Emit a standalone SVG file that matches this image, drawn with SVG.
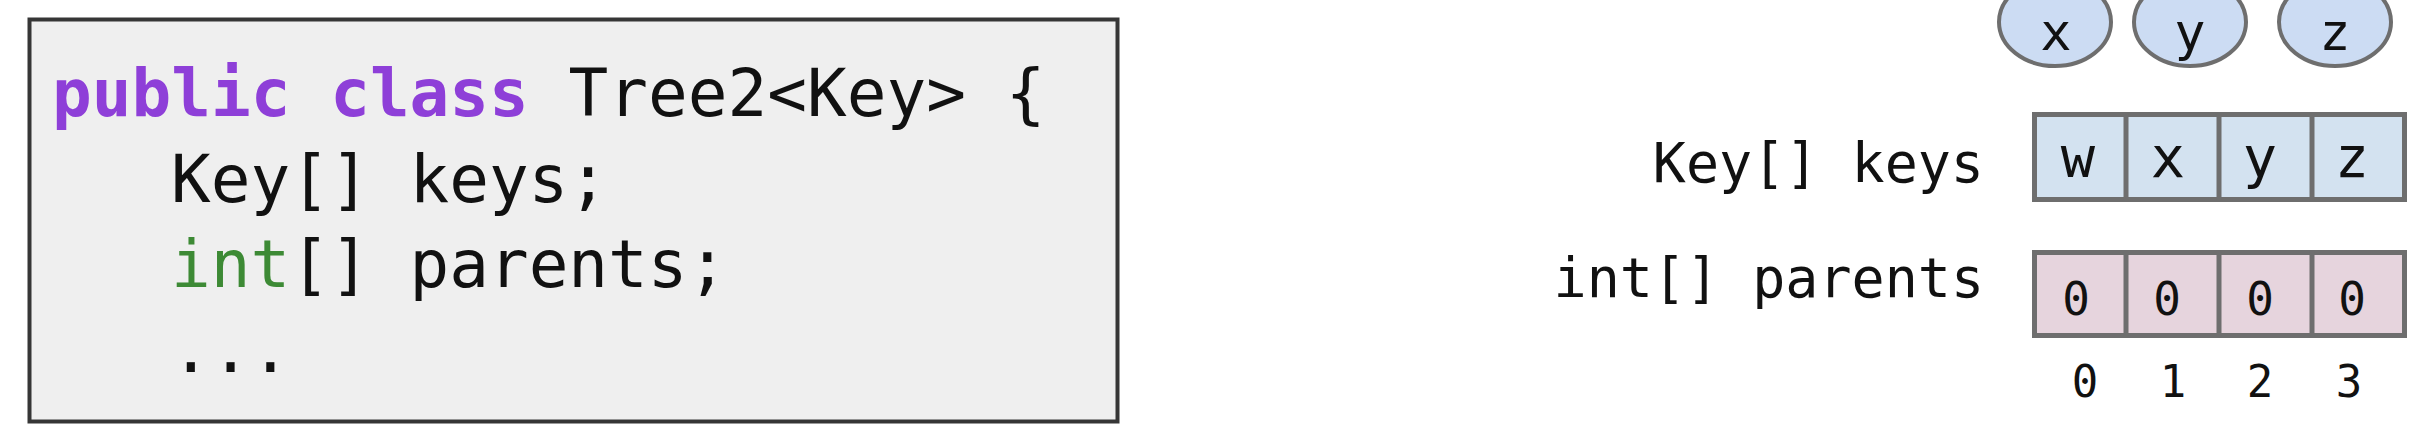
<svg xmlns="http://www.w3.org/2000/svg" width="2410" height="448" viewBox="0 0 2410 448">
<style>
.mono{font-family:"DejaVu Sans Mono","Liberation Mono",monospace;fill:#111}
.code{font-size:66px}
.kw{fill:#8e3fd8;font-weight:bold}
.ty{fill:#3d8a35}
.lbl{font-size:55px;text-anchor:end}
.cell{font-size:57px;text-anchor:middle}
.ntxt{font-size:52px;text-anchor:middle}
.num{font-size:46px;text-anchor:middle}
.idx{font-size:44px;text-anchor:middle}
.arr{stroke:#6e6e6e;stroke-width:5}
.node{fill:#ccdcf3;stroke:#6e6e6e;stroke-width:4}
</style>
<rect width="2410" height="448" fill="#ffffff"/>
<g id="code">
<rect x="29.5" y="19.5" width="1088" height="402" fill="#efefef" stroke="#363636" stroke-width="4"/>
<text class="mono code" x="52" y="116"><tspan class="kw">public class</tspan> Tree2&lt;Key&gt; {</text>
<text class="mono code" x="171" y="202">Key[] keys;</text>
<text class="mono code" x="171" y="287"><tspan class="ty">int</tspan>[] parents;</text>
<text class="mono code" x="171" y="372">...</text>
</g>
<g id="node-x"><ellipse class="node" cx="2055" cy="22" rx="56" ry="44"/><text class="mono ntxt" x="2056" y="50">x</text></g>
<g id="node-y"><ellipse class="node" cx="2190" cy="22" rx="56" ry="44"/><text class="mono ntxt" x="2190" y="50">y</text></g>
<g id="node-z"><ellipse class="node" cx="2335" cy="22" rx="56" ry="44"/><text class="mono ntxt" x="2335" y="50">z</text></g>
<g id="keys">
<text class="mono lbl" x="1984" y="182">Key[] keys</text>
<rect class="arr" x="2034.5" y="114.5" width="370" height="85" fill="#d3e2f0"/>
<path class="arr" d="M2126 114.5V199.5M2219 114.5V199.5M2312 114.5V199.5" fill="none"/>
<text class="mono cell" x="2078" y="177">w</text>
<text class="mono cell" x="2168" y="177">x</text>
<text class="mono cell" x="2260" y="177">y</text>
<text class="mono cell" x="2352" y="177">z</text>
</g>
<g id="parents">
<text class="mono lbl" x="1984" y="297">int[] parents</text>
<rect class="arr" x="2034.5" y="252.5" width="370" height="83" fill="#e6d4dd"/>
<path class="arr" d="M2126 252.5V335.5M2219 252.5V335.5M2312 252.5V335.5" fill="none"/>
<text class="mono num" x="2076" y="315">0</text>
<text class="mono num" x="2167" y="315">0</text>
<text class="mono num" x="2260" y="315">0</text>
<text class="mono num" x="2352" y="315">0</text>
</g>
<g id="indices">
<text class="mono idx" x="2085" y="397">0</text>
<text class="mono idx" x="2173" y="397">1</text>
<text class="mono idx" x="2260" y="397">2</text>
<text class="mono idx" x="2349" y="397">3</text>
</g>
<g id="connectors"/>
</svg>
